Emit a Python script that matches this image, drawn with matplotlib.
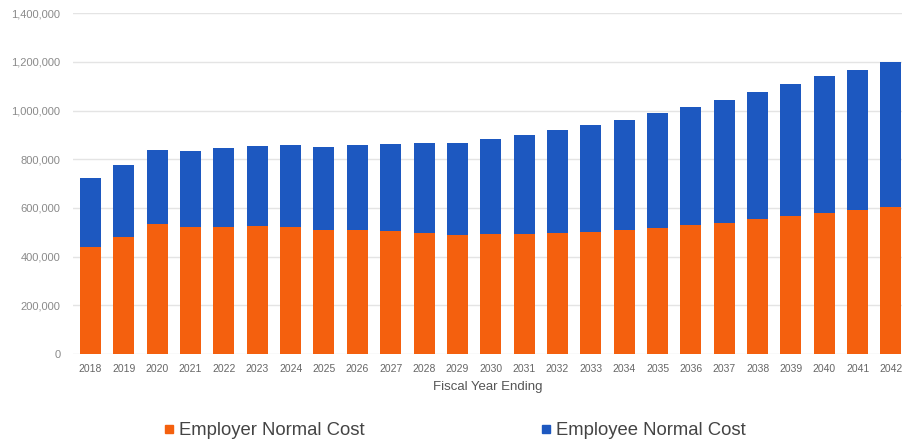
import matplotlib
matplotlib.use("Agg")
import matplotlib.pyplot as plt
from matplotlib.lines import Line2D
from matplotlib.ticker import FuncFormatter

plt.rcParams["font.family"] = ["Liberation Sans", "DejaVu Sans"]

# Data
years = [str(y) for y in range(2018, 2043)]
employer = [440000, 482000, 534000, 522000, 523000, 525000, 522000, 511000, 511000,
            505000, 498000, 490000, 494000, 495000, 498000, 502000, 509000, 518000,
            529000, 540000, 553000, 567000, 581000, 591000, 604000]
total = [725000, 778000, 840000, 836000, 848000, 855000, 860000, 849000, 860000,
         863000, 866000, 868000, 883000, 901000, 922000, 941000, 963000, 989000,
         1015000, 1042000, 1077000, 1108000, 1141000, 1166000, 1199000]
employee = [t - e for t, e in zip(total, employer)]

orange = "#F4600E"
blue = "#1D58C0"

fig = plt.figure(figsize=(9.02, 4.44), dpi=100)
ax = fig.add_axes([0.0809, 0.2027, 0.9191, 0.7673])

x = range(len(years))
ax.bar(x, employer, width=0.63, color=orange, zorder=2)
ax.bar(x, employee, width=0.63, bottom=employer, color=blue, zorder=2)

ax.set_ylim(0, 1400000)
ax.set_xlim(-0.525, 24.33)
ax.set_yticks(range(0, 1400001, 200000))
ax.yaxis.set_major_formatter(FuncFormatter(lambda v, p: f"{int(v):,}"))
ax.set_xticks(list(x))
ax.set_xticklabels(years)

ax.grid(axis="y", color="#e4e4e4", linewidth=1, zorder=0)
for s in ax.spines.values():
    s.set_visible(False)
ax.tick_params(axis="y", length=0, pad=9, labelsize=8, labelcolor="#8a8a8a")
ax.tick_params(axis="x", length=0, pad=7, labelsize=7.5, labelcolor="#666666")
ax.set_xlabel("Fiscal Year Ending", fontsize=9.5, color="#555555", labelpad=5)

handles = [Line2D([], [], marker="s", linestyle="none", markersize=5.5, color=orange),
           Line2D([], [], marker="s", linestyle="none", markersize=5.5, color=blue)]
fig.legend(handles, ["Employer Normal Cost", "Employee Normal Cost"],
           loc="center", bbox_to_anchor=(0.505, 0.03), ncol=2, frameon=False,
           fontsize=13.3, labelcolor="#444444", handlelength=0.4,
           handletextpad=0.35, columnspacing=9.6)

fig.savefig("out.png", dpi=100)
